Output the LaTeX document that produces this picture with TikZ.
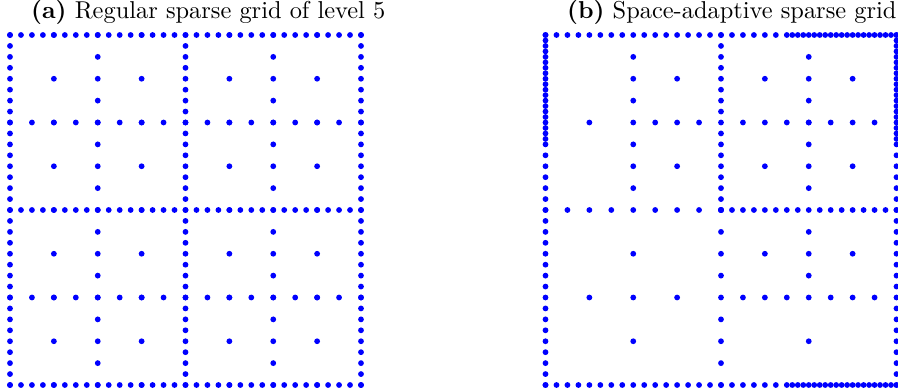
\documentclass[tikz,border=0pt]{standalone}
\begin{document}
\begin{tikzpicture}[x=1pt,y=1pt,
  pt/.style={fill=blue},
  ttl/.style={anchor=base west,inner sep=0pt,font=\fontsize{10}{12}\selectfont}]
\useasboundingbox (0,0) rectangle (898,391);
\def\r{2.9pt}
\node[ttl] (ta) at (31,372) {\scalebox{2.44}{\textbf{(a)} Regular sparse grid of level 5}};
\node[ttl] (tb) at (567,372) {\scalebox{2.44}{\textbf{(b)} Space-adaptive sparse grid}};
% ---------- (a) regular sparse grid ----------
\begin{scope}[shift={(10,6)},x=351pt/32,y=350pt/32]
  \foreach \k in {0,...,32}{
    \fill[pt] (\k,0) circle[radius=\r];
    \fill[pt] (\k,32) circle[radius=\r];
    \fill[pt] (0,\k) circle[radius=\r];
    \fill[pt] (32,\k) circle[radius=\r];
    \fill[pt] (16,\k) circle[radius=\r];
    \fill[pt] (\k,16) circle[radius=\r];}
  \foreach \i in {8,24}{\foreach \j in {0,2,...,32}{
    \fill[pt] (\i,\j) circle[radius=\r];
    \fill[pt] (\j,\i) circle[radius=\r];}}
  \foreach \i in {4,12,20,28}{\foreach \j in {0,4,...,32}{
    \fill[pt] (\i,\j) circle[radius=\r];}}
\end{scope}
% ---------- (b) space-adaptive sparse grid ----------
\begin{scope}[shift={(545.5,6)},x=351pt/32,y=350pt/32]
  \foreach \k in {0,...,21,22,22.5,...,32}{
    \fill[pt] (\k,0) circle[radius=\r];
    \fill[pt] (\k,32) circle[radius=\r];
    \fill[pt] (0,\k) circle[radius=\r];
    \fill[pt] (32,\k) circle[radius=\r];}
  \foreach \k in {16,...,32}{
    \fill[pt] (\k,16) circle[radius=\r];
    \fill[pt] (16,\k) circle[radius=\r];}
  \foreach \k in {0,2,...,16}{
    \fill[pt] (\k,16) circle[radius=\r];
    \fill[pt] (16,\k) circle[radius=\r];}
  % top-left quadrant
  \foreach \j in {18,20,...,30}{\fill[pt] (8,\j) circle[radius=\r];}
  \foreach \p in {(12,28),(12,20),(4,24),(10,24),(12,24),(14,24)}{\fill[pt] \p circle[radius=\r];}
  % top-right quadrant
  \foreach \j in {18,20,...,30}{
    \fill[pt] (24,\j) circle[radius=\r];
    \fill[pt] (\j,24) circle[radius=\r];}
  \foreach \p in {(20,28),(28,28),(20,20),(28,20)}{\fill[pt] \p circle[radius=\r];}
  % bottom-right quadrant
  \foreach \j in {18,20,...,30}{\fill[pt] (\j,8) circle[radius=\r];}
  \foreach \p in {(24,4),(24,10),(24,12),(24,14),(20,12),(28,12)}{\fill[pt] \p circle[radius=\r];}
  % bottom-left quadrant
  \foreach \p in {(4,8),(8,4),(8,8),(8,12),(12,8)}{\fill[pt] \p circle[radius=\r];}
\end{scope}
\end{tikzpicture}
\end{document}
